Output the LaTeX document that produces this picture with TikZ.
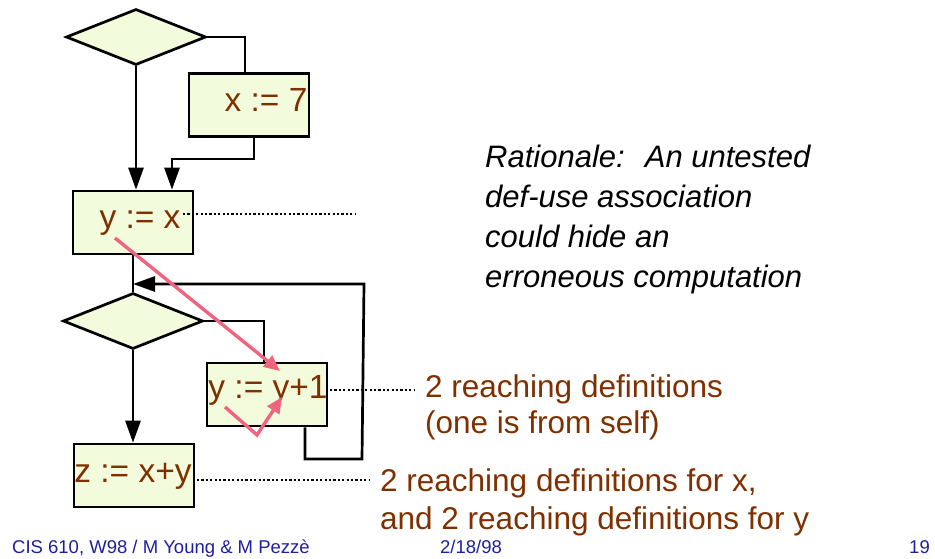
\documentclass[tikz,border=0pt]{standalone}
\usepackage{fontspec}
\setmainfont{Liberation Sans}
\usetikzlibrary{arrows.meta,shapes.geometric}
\definecolor{boxfill}{RGB}{242,252,220}
\definecolor{lbl}{RGB}{128,48,0}
\definecolor{pinkarr}{RGB}{240,100,128}
\definecolor{footblue}{RGB}{30,30,160}
\tikzset{
  flow/.style={line width=2.7pt, draw=black},
  arr/.style={flow, -{Triangle[length=22pt,width=15pt]}},
  cond/.style={diamond, draw, line width=2.7pt, fill=boxfill, minimum width=140pt, minimum height=56pt, inner sep=0pt, aspect=2.5},
  stmt/.style={rectangle, draw, line width=2.7pt, fill=boxfill, minimum width=120pt, minimum height=63pt, inner sep=0pt},
  code/.style={font=\fontsize{33.5}{40}\selectfont, text=lbl, anchor=base, inner sep=0pt},
  dots/.style={line width=2.5pt, dash pattern=on 2.2pt off 2.2pt},
  note/.style={font=\fontsize{31.5}{38}\selectfont, text=lbl, anchor=base west, inner sep=0pt},
  rat/.style={font=\fontsize{31}{40}\selectfont\itshape, text=black, anchor=base west, inner sep=0pt},
  foot/.style={font=\fontsize{18.5}{22}\selectfont, text=footblue, inner sep=0pt},
  pinkline/.style={line width=3.4pt, draw=pinkarr, line join=miter, -{Triangle[length=16pt,width=14pt]}}
}
\begin{document}
\begin{tikzpicture}[x=1pt,y=-1pt]
\useasboundingbox (0,0) rectangle (935,558);
% nodes
\node[cond] (d1) at (136,37) {};
\node[stmt] (x7) at (249,105) {};
\node[stmt] (yx) at (133,222.5) {};
\node[cond] (d2) at (133,321) {};
\node[stmt] (yy) at (267,394.5) {};
\node[stmt] (zxy) at (134,475.5) {};
\node[code] (tx7) at (266,111) {x := 7};
\node[code] (tyx) at (140,228) {y := x};
\node[code] (tyy) at (268,398) {y := y+1};
\node[code] (tzxy) at (133,482) {z := x+y};
% flow edges
\coordinate (c1) at (245,37);
\draw[flow] (d1.east) -- (c1) -- (c1 |- x7.north);
\draw[arr] (d1.south) -- (d1.south |- yx.north);
\coordinate (c2) at (254,159);
\coordinate (c3) at (172,159);
\draw[arr] (x7.south -| c2) -- (c2) -- (c3) -- (c3 |- yx.north);
\draw[flow] (yx.south) -- (d2.north);
\coordinate (c4) at (264,321);
\draw[flow] (d2.east) -- (c4) -- (c4 |- yy.north);
\draw[arr] (d2.south) -- (d2.south |- zxy.north);
\coordinate (c5) at (305,459);
\coordinate (c6) at (362,459);
\coordinate (c7) at (364,284);
\draw[arr] (yy.south -| c5) -- (c5) -- (c6) -- (c7) -- (c7 -| yx.south);
% dotted leaders
\coordinate (e1a) at (183,214); \coordinate (e1b) at (356,214);
\draw[dots] (e1a) -- (e1b);
\coordinate (e2a) at (330,390); \coordinate (e2b) at (414,390);
\draw[dots] (e2a) -- (e2b);
\coordinate (e3a) at (197,480); \coordinate (e3b) at (369,480);
\draw[dots] (e3a) -- (e3b);
% pink def-use arrows
\coordinate (p1) at (115,238); \coordinate (p2) at (280,371);
\draw[pinkline] (p1) -- (p2);
\coordinate (p3) at (225,407); \coordinate (p4) at (257,435); \coordinate (p5) at (282,397);
\draw[pinkline] (p3) -- (p4) -- (p5);
% notes
\node[note] (n1a) at (425,397) {2 reaching definitions};
\node[note] (n1b) at (425,433) {(one is from self)};
\node[note] (n2a) at (380,491) {2 reaching definitions for x,};
\node[note] (n2b) at (380,529) {and 2 reaching definitions for y};
\node[rat] (r1) at (485,167) {Rationale: \ An untested};
\node[rat] (r2) at (485,207) {def-use association};
\node[rat] (r3) at (485,247) {could hide an};
\node[rat] (r4) at (485,287) {erroneous computation};
% footer
\node[foot, anchor=base west] (f1) at (12,553) {CIS 610, W98 / M Young \& M Pezzè};
\node[foot, anchor=base west] (f2) at (440,553) {2/18/98};
\node[foot, anchor=base east] (f3) at (930,553) {19};
\end{tikzpicture}
\end{document}
